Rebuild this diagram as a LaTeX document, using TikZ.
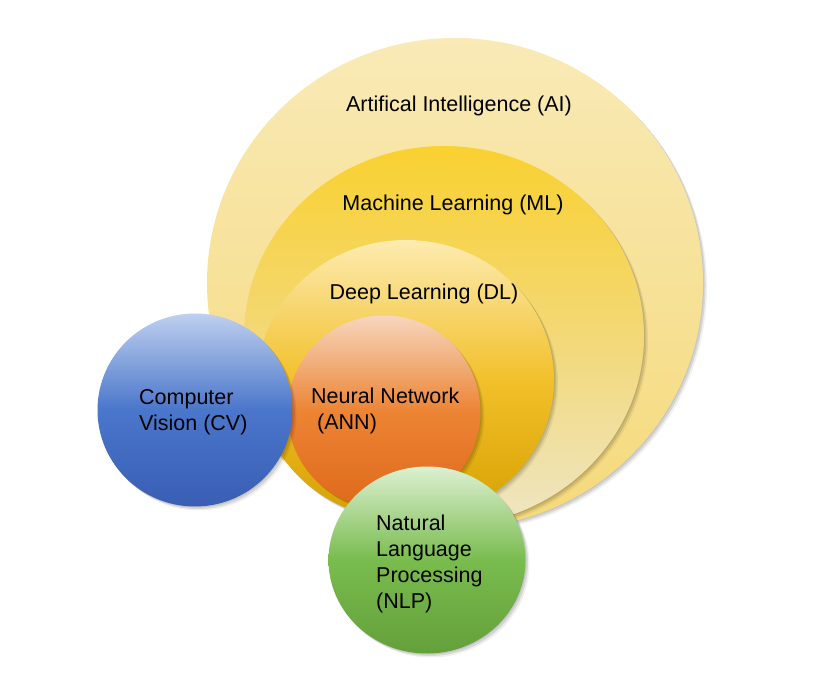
\documentclass[tikz,border=0pt]{standalone}
\usepackage{fontspec}
\setmainfont{Liberation Sans}
\usetikzlibrary{shapes.geometric}
\definecolor{aiT}{HTML}{F9EAB6}
\definecolor{aiB}{HTML}{F5D97A}
\definecolor{mlT}{HTML}{F9D130}
\definecolor{mlM}{HTML}{F3D877}
\definecolor{mlB}{HTML}{EEE6C4}
\definecolor{dlT}{HTML}{FDEBB0}
\definecolor{dlM}{HTML}{F2C02A}
\definecolor{dlB}{HTML}{D6A000}
\definecolor{nnT}{HTML}{F7D6BE}
\definecolor{nnM}{HTML}{EC8433}
\definecolor{nnB}{HTML}{DF691B}
\definecolor{cvT}{HTML}{BFD0EF}
\definecolor{cvM}{HTML}{4A76CB}
\definecolor{cvB}{HTML}{395EB4}
\definecolor{npT}{HTML}{DDF0D2}
\definecolor{npM}{HTML}{79BC4E}
\definecolor{npB}{HTML}{64A03A}
\begin{document}
\begin{tikzpicture}[x=1pt,y=-1pt,
  shadowed/.style={
    preaction={fill=black,opacity=.08,transform canvas={xshift=1pt,yshift=-1pt}},
    preaction={fill=black,opacity=.10,transform canvas={xshift=2.5pt,yshift=-2.5pt}},
    preaction={fill=black,opacity=.06,transform canvas={xshift=4pt,yshift=-4pt}}},
  ball/.style={ellipse, inner sep=0pt, draw=none, shadowed},
  lbl/.style={font=\fontsize{21.5}{25.8}\selectfont, text=black, inner sep=0pt, align=left}
]
\fill[white] (0,0) rectangle (813,676);
\useasboundingbox (0,0) rectangle (813,676);

\node[ball, minimum width=496pt, minimum height=490pt,
      top color=aiT, bottom color=aiB] (ai) at (455,283) {};
\node[ball, minimum width=400pt, minimum height=380pt,
      top color=mlT, bottom color=mlB, middle color=mlM] (ml) at (444,336) {};
\node[ball, minimum width=296pt, minimum height=280pt,
      top color=dlT, bottom color=dlB, middle color=dlM] (dl) at (406,380) {};
\node[ball, minimum width=193pt, minimum height=193pt,
      top color=nnT, bottom color=nnB, middle color=nnM] (ann) at (384,412) {};
\node[ball, minimum width=195pt, minimum height=193pt,
      top color=cvT, bottom color=cvB, middle color=cvM] (cv) at (195,410) {};
\node[ball, minimum width=197pt, minimum height=187pt,
      top color=npT, bottom color=npB, middle color=npM] (nlp) at (427,560) {};

\node[lbl, anchor=base] (tai) at (459,112) {Artifical Intelligence (AI)};
\node[lbl, anchor=base] (tml) at (453,211) {Machine Learning (ML)};
\node[lbl, anchor=base] (tdl) at (424,299) {Deep Learning (DL)};
\node[lbl, anchor=base west] (tann) at (311,429) {Neural Network\\\hspace*{6pt}(ANN)};
\node[lbl, anchor=base west] (tcv) at (139,430) {Computer\\Vision (CV)};
\node[lbl, anchor=base west] (tnlp) at (376,608) {Natural\\Language\\Processing\\(NLP)};
\end{tikzpicture}
\end{document}
